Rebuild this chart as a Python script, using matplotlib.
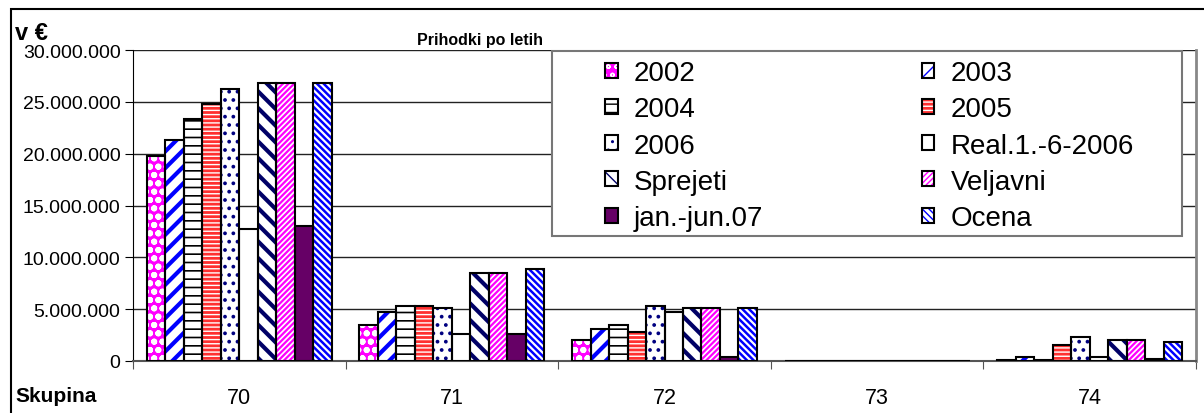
import matplotlib
matplotlib.use('Agg')
import matplotlib.pyplot as plt
from matplotlib.patches import Rectangle
from matplotlib.legend_handler import HandlerTuple
from matplotlib.ticker import FuncFormatter, FixedLocator

plt.rcParams['font.family'] = ['Liberation Sans', 'DejaVu Sans']

# data (EUR)
groups = ['70', '71', '72', '73', '74']
y2002 = [19_750_000, 3_500_000, 2_000_000, 0, 100_000]
y2003 = [21_300_000, 4_700_000, 3_100_000, 0, 350_000]
y2004 = [23_350_000, 5_300_000, 3_450_000, 0, 100_000]
y2005 = [24_800_000, 5_300_000, 2_750_000, 0, 1_500_000]
y2006 = [26_250_000, 5_100_000, 5_300_000, 0, 2_350_000]
real_2006 = [12_700_000, 2_600_000, 4_750_000, 0, 400_000]
sprejeti = [26_800_000, 8_450_000, 5_100_000, 0, 2_000_000]
veljavni = [26_800_000, 8_450_000, 5_100_000, 0, 2_000_000]
jan_jun07 = [13_050_000, 2_600_000, 400_000, 0, 150_000]
ocena = [26_800_000, 8_850_000, 5_100_000, 0, 1_850_000]

names = ['2002', '2003', '2004', '2005', '2006', 'Real.1.-6-2006',
         'Sprejeti', 'Veljavni', 'jan.-jun.07', 'Ocena']
values = [y2002, y2003, y2004, y2005, y2006, real_2006,
          sprejeti, veljavni, jan_jun07, ocena]
# (face, hatch colour, hatch, hatch linewidth)
styles = [
    ('#FF00FF', 'white', 'oo', 2.0),
    ('white', '#0000FF', '//', 3.0),
    ('white', 'black', '--', 1.2),
    ('#FF3030', 'white', '----', 1.0),
    ('white', '#000080', '..', 1.5),
    ('white', 'white', None, 1.0),
    ('white', '#000066', '\\\\', 3.0),
    ('white', '#FF00FF', '//////', 1.6),
    ('#660066', '#660066', None, 1.0),
    ('white', '#0000FF', '\\' * 5, 1.8),
]

W, H = 1204, 414
fig = plt.figure(figsize=(W / 100, H / 100), dpi=100)
ax = fig.add_axes([133 / W, (H - 362) / H, (1196 - 133) / W, (362 - 51) / H])

bw = 0.087
off = 0.065
handles = []
for j, (vals, (fc, hc, hatch, hlw)) in enumerate(zip(values, styles)):
    xs = [i + off + j * bw for i in range(len(groups))]
    b1 = ax.bar(xs, vals, width=bw, align='edge', color=fc, edgecolor=hc,
                linewidth=0, hatch=hatch, zorder=3)
    for p in b1:
        if hasattr(p, 'set_hatch_linewidth'):
            p.set_hatch_linewidth(hlw)
    b2 = ax.bar(xs, vals, width=bw, align='edge', fill=False,
                edgecolor='black', linewidth=1.5, zorder=4)
    handles.append((b1[0], b2[0]))

ax.set_xlim(0, 5)
ax.set_ylim(0, 30_000_000)
ax.set_yticks(range(0, 30_000_001, 5_000_000))
ax.yaxis.set_major_formatter(FuncFormatter(lambda v, p: f'{int(v):,}'.replace(',', '.')))
ax.tick_params(axis='y', labelsize=14, length=6, direction='out', pad=3)
ax.grid(axis='y', color='#222222', linewidth=1, zorder=0)

ax.xaxis.set_major_locator(FixedLocator(range(6)))
ax.xaxis.set_minor_locator(FixedLocator([i + 0.5 for i in range(5)]))
ax.set_xticklabels([])
ax.set_xticklabels(groups, minor=True)
ax.tick_params(axis='x', which='major', length=6, direction='out', color='#555555')
ax.tick_params(axis='x', which='minor', length=0, labelsize=15.5, pad=18.5)

ax.spines['top'].set_visible(False)
ax.spines['right'].set_color('#888888')
ax.spines['right'].set_linewidth(2)
ax.spines['bottom'].set_color('#555555')
ax.spines['bottom'].set_linewidth(1.5)
ax.spines['left'].set_color('black')

# legend, row-major order like the original
order = [0, 2, 4, 6, 8, 1, 3, 5, 7, 9]
leg = fig.legend([handles[k] for k in order], [names[k] for k in order],
                 handler_map={tuple: HandlerTuple(ndivide=1, pad=0)},
                 ncol=2, loc='upper left', bbox_to_anchor=(605 / W, 1 - 61 / H),
                 frameon=False, fontsize=20, borderpad=0, borderaxespad=0,
                 handlelength=0.45, handleheight=0.45, handletextpad=0.58,
                 columnspacing=5.72, labelspacing=0.37)
fig.patches.append(Rectangle((552 / W, 1 - 237 / H), (1182 - 552) / W, (237 - 52) / H,
                             transform=fig.transFigure, facecolor='white',
                             edgecolor='#777777', linewidth=1.5, zorder=5))
leg.set_zorder(6)

fig.text(480 / W, 1 - 40 / H, 'Prihodki po letih', ha='center', va='center',
         fontsize=11.5, fontweight='bold')
fig.text(15 / W, 1 - 33 / H, 'v €', ha='left', va='center', fontsize=17, fontweight='bold')
fig.text(15 / W, 1 - 397 / H, 'Skupina', ha='left', va='center', fontsize=15, fontweight='bold')

# outer chart border
fig.patches.append(Rectangle((11 / W, -0.1), 1.1, 1 - 10 / H + 0.1, transform=fig.transFigure,
                             fill=False, edgecolor='black', linewidth=1.5, zorder=0))

fig.savefig('out.png', dpi=100)
